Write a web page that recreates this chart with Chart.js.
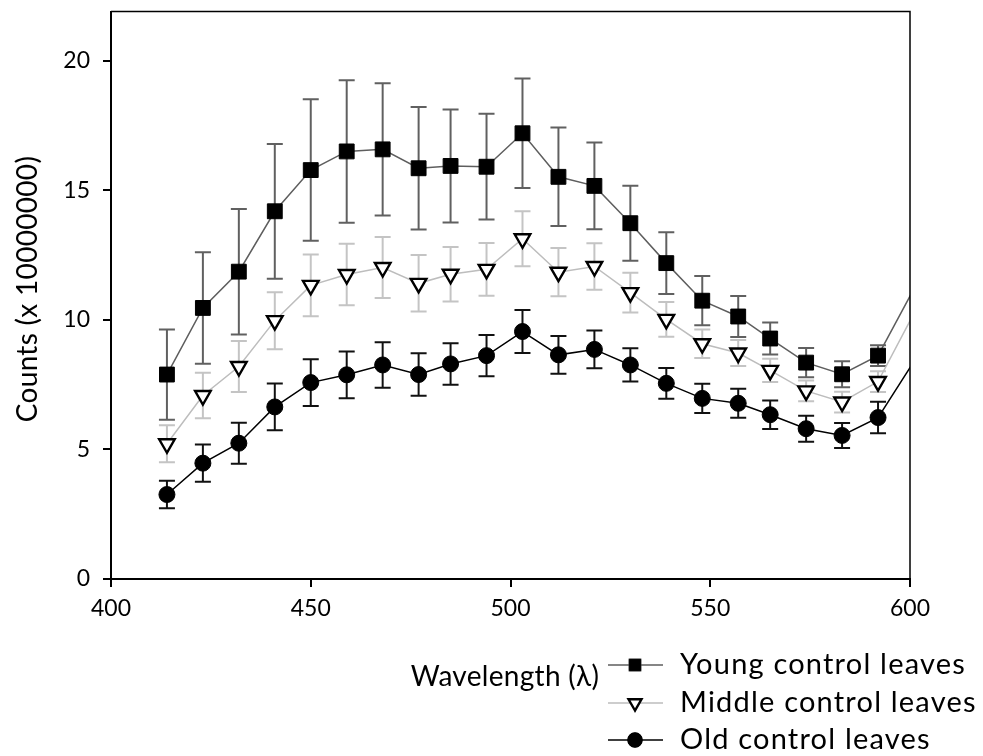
<!DOCTYPE html>
<html>
<head>
<meta charset="utf-8">
<title>Counts vs wavelength</title>
<script src="https://cdn.jsdelivr.net/npm/chart.js@4.4.1/dist/chart.umd.min.js"></script>
<style>
  html, body { margin: 0; padding: 0; background: #fff; }
  #grafica { display: block; }
</style>
</head>
<body>
<canvas id="grafica" width="983" height="756"></canvas>
<script>
// longitudes de onda medidas (el ultimo punto cae fuera del eje, la linea se corta en 600)
const longitudes = [414, 423, 432, 441, 450, 459, 468, 477, 485, 494, 503, 512, 521, 530, 539, 548, 557, 565, 574, 583, 592, 601];

// cuentas (x 10000000) por tipo de hoja
const hojasJovenes = [7.89, 10.46, 11.86, 14.19, 15.78, 16.5, 16.58, 15.85, 15.94, 15.91, 17.2, 15.52, 15.17, 13.73, 12.19, 10.74, 10.13, 9.28, 8.35, 7.9, 8.62, 11.2];
const hojasMedias = [5.22, 7.08, 8.2, 9.97, 11.33, 11.75, 12.02, 11.41, 11.76, 11.95, 13.13, 11.84, 12.06, 11.05, 10.02, 9.08, 8.72, 8.05, 7.26, 6.83, 7.62, 10.25];
const hojasViejas = [3.26, 4.47, 5.24, 6.64, 7.58, 7.88, 8.26, 7.89, 8.3, 8.62, 9.55, 8.65, 8.86, 8.26, 7.55, 6.97, 6.78, 6.34, 5.8, 5.54, 6.23, 8.4];

// errores (+/-)
const errorJovenes = [1.74, 2.15, 2.42, 2.6, 2.73, 2.75, 2.55, 2.36, 2.18, 2.04, 2.11, 1.9, 1.67, 1.45, 1.19, 0.95, 0.79, 0.62, 0.56, 0.5, 0.4];
const errorMedias = [0.71, 0.88, 0.98, 1.1, 1.19, 1.19, 1.18, 1.09, 1.05, 1.02, 1.06, 0.93, 0.9, 0.77, 0.67, 0.55, 0.5, 0.45, 0.4, 0.4, 0.4];
const errorViejas = [0.53, 0.72, 0.79, 0.9, 0.9, 0.9, 0.88, 0.82, 0.8, 0.8, 0.83, 0.73, 0.73, 0.64, 0.59, 0.56, 0.56, 0.55, 0.5, 0.48, 0.61];

const etiquetas = ["Young control leaves", "Middle control leaves", "Old control leaves"];
const ticksX = [400, 450, 500, 550, 600];
const ticksY = [0, 5, 10, 15, 20];

const fuente = "Lato, 'Open Sans', sans-serif";

const puntos = (valores) => valores.map((v, i) => ({ x: longitudes[i], y: v }));
// sin marcador en el punto que queda fuera del eje
const radios = (r) => longitudes.map((l) => (l > 600 ? 0 : r));

// barras de error, se pintan antes que las lineas y marcadores
const barrasError = {
  id: "barrasError",
  beforeDatasetsDraw(chart) {
    const ctx = chart.ctx;
    const ejeX = chart.scales.x;
    const ejeY = chart.scales.y;
    const area = chart.chartArea;
    ctx.save();
    ctx.beginPath();
    ctx.rect(area.left, area.top, area.right - area.left, area.bottom - area.top);
    ctx.clip();
    // primero las viejas, al final las jovenes
    for (let d = chart.data.datasets.length - 1; d >= 0; d--) {
      const ds = chart.data.datasets[d];
      ctx.strokeStyle = ds.colorError;
      ctx.lineWidth = 2;
      ds.errores.forEach((e, i) => {
        const px = ejeX.getPixelForValue(ds.data[i].x);
        const arriba = ejeY.getPixelForValue(ds.data[i].y + e);
        const abajo = ejeY.getPixelForValue(ds.data[i].y - e);
        ctx.beginPath();
        ctx.moveTo(px, arriba);
        ctx.lineTo(px, abajo);
        ctx.moveTo(px - 8, arriba);
        ctx.lineTo(px + 8, arriba);
        ctx.moveTo(px - 8, abajo);
        ctx.lineTo(px + 8, abajo);
        ctx.stroke();
      });
    }
    ctx.restore();
  },
};

// marco superior/derecho, titulos de los ejes y leyenda
const decoracion = {
  id: "decoracion",
  afterDraw(chart) {
    const ctx = chart.ctx;
    const area = chart.chartArea;
    ctx.save();
    ctx.strokeStyle = "#000";
    ctx.lineWidth = 1.5;
    ctx.beginPath();
    ctx.moveTo(area.left, area.top);
    ctx.lineTo(area.right, area.top);
    ctx.lineTo(area.right, area.bottom);
    ctx.stroke();

    ctx.fillStyle = "#000";
    ctx.font = "28px " + fuente;
    ctx.letterSpacing = "0.3px";
    ctx.textAlign = "center";
    ctx.textBaseline = "middle";
    ctx.fillText("Wavelength (\u03bb)", 505, 677);

    ctx.save();
    ctx.translate(28, 289);
    ctx.rotate(-Math.PI / 2);
    ctx.fillText("Counts (x 10000000)", 0, 0);
    ctx.restore();

    // leyenda
    const filas = [665, 703, 740];
    chart.data.datasets.forEach((ds, i) => {
      const y = filas[i];
      ctx.strokeStyle = ds.borderColor;
      ctx.lineWidth = 1.5;
      ctx.beginPath();
      ctx.moveTo(608, y);
      ctx.lineTo(663, y);
      ctx.stroke();
      Chart.helpers.drawPoint(ctx, {
        pointStyle: ds.pointStyle,
        rotation: ds.rotation || 0,
        radius: ds.radioLeyenda,
        borderWidth: ds.pointBorderWidth,
      }, 635, y);
      ctx.fillStyle = ds.pointBackgroundColor;
      ctx.strokeStyle = ds.pointBorderColor;
      ctx.lineWidth = ds.pointBorderWidth;
      ctx.fill();
      ctx.stroke();
      ctx.fillStyle = "#000";
      ctx.font = "29px " + fuente;
      ctx.letterSpacing = "1.2px";
      ctx.textAlign = "left";
      ctx.fillText(etiquetas[i], 680, y);
    });
    ctx.letterSpacing = "0px";
    ctx.restore();
  },
};

new Chart(document.getElementById("grafica"), {
  type: "line",
  data: {
    datasets: [
      {
        label: etiquetas[0],
        data: puntos(hojasJovenes),
        errores: errorJovenes,
        colorError: "#606060",
        borderColor: "#5e5e5e",
        borderWidth: 1.5,
        pointStyle: "rect",
        pointRadius: radios(10.5),
        radioLeyenda: 8,
        pointBackgroundColor: "#000",
        pointBorderColor: "#000",
        pointBorderWidth: 1,
        clip: 0,
      },
      {
        label: etiquetas[1],
        data: puntos(hojasMedias),
        errores: errorMedias,
        colorError: "#c4c4c4",
        borderColor: "#bdbdbd",
        borderWidth: 1.5,
        pointStyle: "triangle",
        rotation: 180,
        pointRotation: 180,
        pointRadius: radios(9),
        radioLeyenda: 7.5,
        pointBackgroundColor: "#fff",
        pointBorderColor: "#000",
        pointBorderWidth: 2.4,
        clip: 0,
      },
      {
        label: etiquetas[2],
        data: puntos(hojasViejas),
        errores: errorViejas,
        colorError: "#111",
        borderColor: "#000",
        borderWidth: 1.5,
        pointStyle: "circle",
        pointRadius: radios(8),
        radioLeyenda: 7,
        pointBackgroundColor: "#000",
        pointBorderColor: "#000",
        pointBorderWidth: 1,
        clip: 0,
      },
    ],
  },
  options: {
    responsive: false,
    animation: false,
    layout: { padding: { left: 0, right: 73, top: 6, bottom: 0 } },
    plugins: {
      legend: { display: false },
      tooltip: { enabled: false },
    },
    scales: {
      x: {
        type: "linear",
        min: 400,
        max: 600,
        afterFit: (eje) => { eje.height = 177; eje.paddingLeft = 0; eje.paddingRight = 0; },
        afterBuildTicks: (eje) => { eje.ticks = ticksX.map((v) => ({ value: v })); },
        border: { color: "#000", width: 2 },
        grid: { drawOnChartArea: false, drawTicks: true, tickLength: 8, color: "#000", lineWidth: 2 },
        ticks: { color: "#000", font: { family: fuente, size: 23 }, padding: 8, maxRotation: 0 },
      },
      y: {
        min: 0,
        max: 21.9,
        afterFit: (eje) => { eje.width = 111; eje.paddingTop = 0; eje.paddingBottom = 0; },
        afterBuildTicks: (eje) => { eje.ticks = ticksY.map((v) => ({ value: v })); },
        border: { color: "#000", width: 2 },
        grid: { drawOnChartArea: false, drawTicks: true, tickLength: 8, color: "#000", lineWidth: 2 },
        ticks: { color: "#000", font: { family: fuente, size: 23 }, padding: 13 },
      },
    },
  },
  plugins: [barrasError, decoracion],
});
</script>
</body>
</html>
